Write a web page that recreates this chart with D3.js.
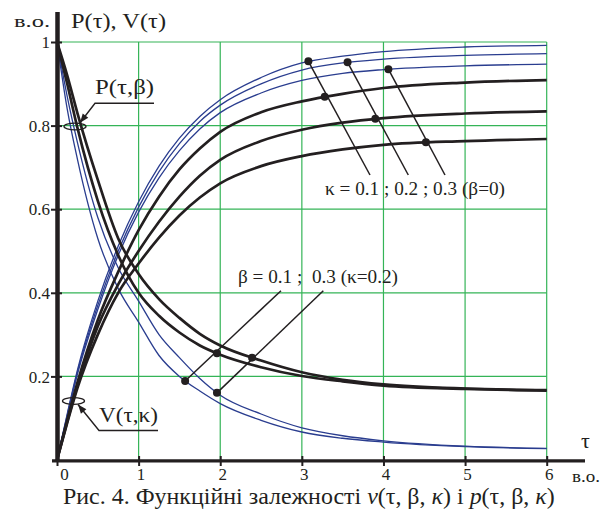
<!DOCTYPE html>
<html><head><meta charset="utf-8">
<script src="https://cdn.jsdelivr.net/npm/d3@7"></script>
<style>
body{margin:0;background:#fff;}
svg{display:block;font-family:"Liberation Serif","Times New Roman",serif;}
text{white-space:pre;}
</style></head><body>
<svg id="chart" width="607" height="512"></svg>
<script>
// Sampling grid in dimensionless time τ
const tau = [0, 0.125, 0.25, 0.5, 0.75, 1, 1.25, 1.5, 1.75, 2, 2.5, 3, 3.5, 4, 5, 6];

// V(τ,κ), β = 0 — thin blue family
const vBlueK01 = [0, 0.110, 0.215, 0.380, 0.512, 0.618, 0.703, 0.770, 0.822, 0.862, 0.915, 0.950, 0.966, 0.977, 0.988, 0.992];
const vBlueK02 = [0, 0.107, 0.210, 0.370, 0.500, 0.605, 0.690, 0.757, 0.810, 0.849, 0.900, 0.933, 0.950, 0.959, 0.968, 0.972];
const vBlueK03 = [0, 0.104, 0.205, 0.360, 0.490, 0.593, 0.675, 0.740, 0.792, 0.831, 0.878, 0.908, 0.925, 0.934, 0.943, 0.947];
// V(τ,κ), β = 0 — thick black family
const vBlackK01 = [0, 0.095, 0.185, 0.335, 0.450, 0.550, 0.630, 0.695, 0.745, 0.785, 0.832, 0.858, 0.876, 0.890, 0.903, 0.909];
const vBlackK02 = [0, 0.092, 0.178, 0.320, 0.420, 0.500, 0.570, 0.630, 0.680, 0.718, 0.763, 0.790, 0.807, 0.818, 0.829, 0.834];
const vBlackK03 = [0, 0.089, 0.172, 0.300, 0.400, 0.470, 0.532, 0.585, 0.628, 0.662, 0.703, 0.727, 0.743, 0.754, 0.763, 0.768];
// P(τ,β), κ = 0.2 — thick black family
const pBlackB01 = [1, 0.900, 0.795, 0.620, 0.490, 0.400, 0.345, 0.305, 0.274, 0.252, 0.222, 0.201, 0.188, 0.178, 0.170, 0.166];
const pBlackB03 = [1, 0.920, 0.830, 0.670, 0.530, 0.445, 0.385, 0.340, 0.302, 0.274, 0.238, 0.210, 0.192, 0.181, 0.171, 0.167];
// P(τ,β) — thin blue family
const pBlueB01 = [1, 0.840, 0.720, 0.530, 0.410, 0.330, 0.250, 0.200, 0.165, 0.135, 0.095, 0.067, 0.052, 0.043, 0.032, 0.027];
const pBlueB03 = [1, 0.870, 0.760, 0.580, 0.460, 0.380, 0.300, 0.245, 0.195, 0.155, 0.110, 0.077, 0.058, 0.046, 0.033, 0.028];

// Axis ticks
const xTicks = [0, 1, 2, 3, 4, 5, 6];
const yTicks = [0.2, 0.4, 0.6, 0.8, 1];
const yTickLabels = ["0.2", "0.4", "0.6", "0.8", "1"];

// Marked points (τ on a given curve) joined by leader lines to the captions
const kappaMarksBlue  = [3.08, 3.56, 4.06];
const kappaMarksBlack = [3.28, 3.90, 4.52];
const betaMarksBlack  = [1.96, 2.39];
const betaMarksBlue   = [1.57, 1.96];

const kappaCaption = "κ = 0.1 ; 0.2 ; 0.3 (β=0)";
const betaCaption  = "β = 0.1 ;  0.3 (κ=0.2)";

const svg = d3.select("#chart");
const x = d3.scaleLinear().domain([0, 6]).range([57, 546.7]);
const y = d3.scaleLinear().domain([0, 1]).range([460, 42]);
const ink = "#231f20", blue = "#2a3d8f", green = "#34b457";

// grid
const grid = svg.append("g");
grid.selectAll("line.v").data(xTicks.slice(1)).join("line")
  .attr("x1", d => x(d)).attr("x2", d => x(d)).attr("y1", y(1)).attr("y2", y(0))
  .attr("stroke", green).attr("stroke-width", 1.2);
grid.selectAll("line.h").data(yTicks).join("line")
  .attr("x1", x(0)).attr("x2", x(6)).attr("y1", d => y(d)).attr("y2", d => y(d))
  .attr("stroke", green).attr("stroke-width", 1.2);

// curves
const line = d3.line().x((d, i) => x(tau[i])).y(d => y(d)).curve(d3.curveMonotoneX);
const curves = {};
function drawCurve(name, vals, color, w) {
  curves[name] = svg.append("path").datum(vals).attr("d", line)
    .attr("fill", "none").attr("stroke", color).attr("stroke-width", w)
    .attr("stroke-linejoin", "round");
}
drawCurve("vb1", vBlueK01, blue, 1.3);
drawCurve("vb2", vBlueK02, blue, 1.3);
drawCurve("vb3", vBlueK03, blue, 1.3);
drawCurve("pu1", pBlueB01, blue, 1.3);
drawCurve("pu3", pBlueB03, blue, 1.3);
drawCurve("vk1", vBlackK01, ink, 2.7);
drawCurve("vk2", vBlackK02, ink, 2.7);
drawCurve("vk3", vBlackK03, ink, 2.7);
drawCurve("pk1", pBlackB01, ink, 2.7);
drawCurve("pk3", pBlackB03, ink, 2.7);

// point on a drawn curve at a given τ
function pointAt(name, t) {
  const node = curves[name].node(), L = node.getTotalLength(), px = x(t);
  let lo = 0, hi = L;
  for (let k = 0; k < 40; k++) {
    const mid = (lo + hi) / 2;
    if (node.getPointAtLength(mid).x < px) lo = mid; else hi = mid;
  }
  const p = node.getPointAtLength((lo + hi) / 2);
  return [p.x, p.y];
}

// axes
const yAxis = d3.axisLeft(y).tickValues(yTicks).tickSize(11).tickPadding(1)
  .tickFormat((d, i) => yTickLabels[i]);
const gy = svg.append("g").attr("transform", "translate(62,0)").call(yAxis);
gy.select(".domain").remove();
gy.selectAll(".tick line").attr("stroke", ink).attr("stroke-width", 2);
gy.selectAll(".tick text").attr("font-size", 17).attr("fill", ink)
  .attr("font-family", "Liberation Serif").attr("dy", "0.34em");

const xAxis = d3.axisBottom(x).tickValues(xTicks).tickSize(10).tickPadding(4).tickFormat(d3.format("d"));
const gx = svg.append("g").attr("transform", "translate(0,456)").call(xAxis);
gx.select(".domain").remove();
gx.selectAll(".tick line").attr("stroke", ink).attr("stroke-width", 2);
gx.selectAll(".tick text").attr("font-size", 17).attr("fill", ink)
  .attr("font-family", "Liberation Serif")
  .attr("dx", d => d === 0 ? 7 : 2).attr("dy", "0.6em");

svg.append("line").attr("x1", 57.5).attr("x2", 57.5).attr("y1", 12).attr("y2", 462)
  .attr("stroke", ink).attr("stroke-width", 4.5);
svg.append("line").attr("x1", 52).attr("x2", 585).attr("y1", 460.8).attr("y2", 460.8)
  .attr("stroke", ink).attr("stroke-width", 3.2);

// leader lines with marks
const lead = svg.append("g");
function leader(from, through, to) {
  lead.append("line").attr("x1", from[0]).attr("y1", from[1]).attr("x2", to[0]).attr("y2", to[1])
    .attr("stroke", ink).attr("stroke-width", 1.5);
  [through, to].forEach(p => lead.append("circle").attr("cx", p[0]).attr("cy", p[1]).attr("r", 4).attr("fill", ink));
}
const kAnch = [[370, 175], [408.3, 175], [445, 175]];
["1", "2", "3"].forEach((s, i) => {
  leader(kAnch[i], pointAt("vk" + s, kappaMarksBlack[i]), pointAt("vb" + s, kappaMarksBlue[i]));
});
const bAnch = [[281, 290.7], [323.3, 290.7]];
["1", "3"].forEach((s, i) => {
  leader(bAnch[i], pointAt("pk" + s, betaMarksBlack[i]), pointAt("pu" + s, betaMarksBlue[i]));
});

// texts
function txt(s, px, py, size, len) {
  const t = svg.append("text").attr("x", px).attr("y", py).attr("font-size", size)
    .attr("fill", ink).text(s);
  if (len) t.attr("textLength", len).attr("lengthAdjust", "spacingAndGlyphs");
  return t;
}
txt("в.о.", 14, 27, 16, 36);
txt("P(τ), V(τ)", 71, 27.5, 20, 95);
txt(kappaCaption, 325, 195, 18, 180);
txt(betaCaption, 238, 283, 18, 160);
txt("τ", 581, 448, 22);
txt("в.о.", 572, 482, 16, 28);

// curve-family callouts
function callout(label, tx, ty, ulY, tip, ell) {
  txt(label, tx, ty, 20, 59);
  svg.append("polyline").attr("points", [[tx + 59, ulY], [tx, ulY], tip].join(" "))
    .attr("fill", "none").attr("stroke", ink).attr("stroke-width", 1.4);
  const ang = Math.atan2(tip[1] - ulY, tip[0] - tx);
  const L = 9, W = 3.5;
  const bx = tip[0] - L * Math.cos(ang), by = tip[1] - L * Math.sin(ang);
  svg.append("polygon").attr("points", [
    tip, [bx + W * Math.sin(ang), by - W * Math.cos(ang)], [bx - W * Math.sin(ang), by + W * Math.cos(ang)]
  ].join(" ")).attr("fill", ink);
  svg.append("ellipse").attr("cx", ell[0]).attr("cy", ell[1]).attr("rx", 11).attr("ry", 3.3)
    .attr("fill", "none").attr("stroke", ink).attr("stroke-width", 1.3);
}
callout("P(τ,β)", 95, 94, 103.3, [80, 122.7], [75, 126.5]);
callout("V(τ,κ)", 99, 421.7, 430.5, [78, 404.5], [73.5, 401]);

// figure caption
const cap = svg.append("text").attr("x", 63).attr("y", 504).attr("font-size", 21).attr("fill", ink);
[["Рис. 4. Функційні залежності ", 0], ["v", 1], ["(τ, β, ", 0], ["κ", 1], [") і ", 0],
 ["p", 1], ["(τ, β, ", 0], ["κ", 1], [")", 0]].forEach(([s, it]) => {
  cap.append("tspan").attr("font-style", it ? "italic" : "normal").text(s);
});
const w = cap.node().getComputedTextLength();
cap.attr("font-size", 21 * 492 / w);
</script>
</body></html>
